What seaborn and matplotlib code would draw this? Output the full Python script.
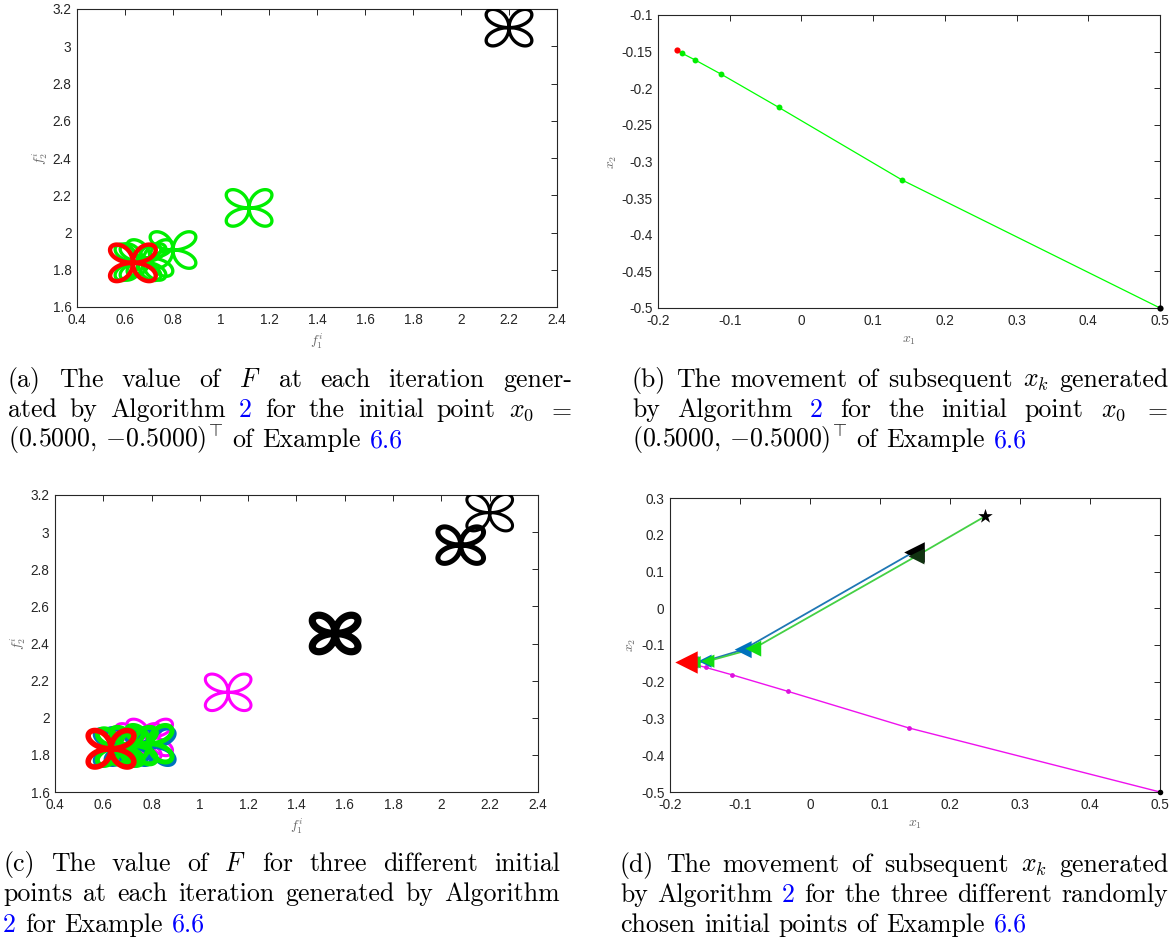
import numpy as np
import matplotlib
matplotlib.use("Agg")
import matplotlib.pyplot as plt
from matplotlib.path import Path
from matplotlib.markers import MarkerStyle
import seaborn as sns

# ---- data ----
# (a) value of F at each iterate, start x0 = (0.5, -0.5)
a_f1 = [2.20, 1.117, 0.800, 0.704, 0.675, 0.654, 0.633]
a_f2 = [3.100, 2.132, 1.906, 1.863, 1.842, 1.840, 1.837]

# (b) iterates x_k for x0 = (0.5, -0.5)
b_x1 = [0.5, 0.1408, -0.0318, -0.1116, -0.149, -0.1664, -0.174]
b_x2 = [-0.5, -0.3255, -0.226, -0.181, -0.161, -0.1523, -0.1477]

# (c) value of F for three starting points
c_start_f1 = [2.20, 2.08, 1.56]
c_start_f2 = [3.105, 2.930, 2.454]
c_mag_f1 = [1.117, 0.792, 0.745]
c_mag_f2 = [2.137, 1.894, 1.870]
c_blue_f1 = [0.800, 0.705, 0.660]
c_blue_f2 = [1.845, 1.845, 1.840]
c_green_f1 = [0.790, 0.725, 0.670]
c_green_f2 = [1.860, 1.850, 1.842]
c_end_f1 = [0.632]
c_end_f2 = [1.833]

# (d) iterates for three starting points
d_green_x1 = [0.25, 0.152, -0.081, -0.146, -0.165, -0.177]
d_green_x2 = [0.25, 0.142, -0.110, -0.144, -0.147, -0.147]
d_blue_x1 = [0.148, -0.0955, -0.150, -0.168, -0.177]
d_blue_x2 = [0.153, -0.1127, -0.144, -0.147, -0.147]
d_mag_x1 = b_x1
d_mag_x2 = b_x2

# ---- style ----
sns.set_theme(style="white")
plt.rcParams["font.family"] = ["Liberation Sans", "DejaVu Sans"]
plt.rcParams["mathtext.fontset"] = "cm"

W, H = 1175, 942
fig = plt.figure(figsize=(W / 100, H / 100), dpi=100)


def rect(l, r, t, b):
    return [l / W, 1 - b / H, (r - l) / W, (b - t) / H]


def fmt(v):
    return f"{v + 0.0:g}" if abs(v) > 1e-9 else "0"


def matlab_axes(ax, xlim, ylim, xticks, yticks, xlab, ylab):
    ax.set_xlim(xlim)
    ax.set_ylim(ylim)
    ax.set_xticks(xticks)
    ax.set_yticks(yticks)
    ax.set_xticklabels([fmt(v) for v in xticks])
    ax.set_yticklabels([fmt(v) for v in yticks])
    ax.tick_params(direction="in", top=True, right=True, length=4, width=0.7,
                   labelsize=9.8, colors="#262626", pad=4)
    for s in ax.spines.values():
        s.set_color("#262626")
        s.set_linewidth(0.8)
    ax.set_xlabel(xlab, fontsize=10, color="#666666", labelpad=4)
    ax.set_ylabel(ylab, fontsize=10, color="#666666", labelpad=2)


# four-leaf marker
t = np.linspace(0, 2 * np.pi, 241)
r = np.sin(2 * t)
leaf = MarkerStyle(Path(np.column_stack([r * np.cos(t), 0.8 * r * np.sin(t)])))
LEAF_S = 1080


def leaves(ax, x, y, color, lw):
    sns.scatterplot(x=x, y=y, ax=ax, marker=leaf, s=LEAF_S, color="none",
                    edgecolor=color, linewidth=lw, zorder=3)


f_ticks_x = np.round(np.arange(0.4, 2.41, 0.2), 1)
f_ticks_y = np.round(np.arange(1.6, 3.21, 0.2), 1)

# (a)
ax_a = fig.add_axes(rect(77, 557, 9, 307))
leaves(ax_a, a_f1[1:-1], a_f2[1:-1], "#00ee00", 2.4)
leaves(ax_a, a_f1[:1], a_f2[:1], "black", 2.4)
leaves(ax_a, a_f1[-1:], a_f2[-1:], "#ff0000", 3.2)
matlab_axes(ax_a, (0.4, 2.4), (1.6, 3.2), f_ticks_x, f_ticks_y,
            r"$f_1^i$", r"$f_2^i$")

# (b)
ax_b = fig.add_axes(rect(658, 1160, 15, 308))
sns.lineplot(x=b_x1, y=b_x2, ax=ax_b, sort=False, estimator=None,
             color="#00ff00", linewidth=0.9)
sns.scatterplot(x=b_x1[1:-1], y=b_x2[1:-1], ax=ax_b, color="#00ee00",
                s=18, linewidth=0, zorder=3)
sns.scatterplot(x=b_x1[-1:], y=b_x2[-1:], ax=ax_b, color="#ff0000",
                s=20, linewidth=0, zorder=4)
sns.scatterplot(x=b_x1[:1], y=b_x2[:1], ax=ax_b, color="black",
                s=20, linewidth=0, zorder=4, clip_on=False)
matlab_axes(ax_b, (-0.2, 0.5), (-0.5, -0.1),
            np.round(np.arange(-0.2, 0.51, 0.1), 1),
            np.round(np.arange(-0.5, -0.099, 0.05), 2),
            r"$x_1$", r"$x_2$")

# (c)
ax_c = fig.add_axes(rect(55, 538, 495, 792))
leaves(ax_c, c_mag_f1, c_mag_f2, "#ff00ff", 2.2)
leaves(ax_c, c_blue_f1, c_blue_f2, "#0072bd", 3.2)
leaves(ax_c, c_green_f1, c_green_f2, "#00ee00", 3.6)
leaves(ax_c, c_end_f1, c_end_f2, "#ff0000", 4.0)
leaves(ax_c, c_start_f1[:1], c_start_f2[:1], "black", 2.2)
leaves(ax_c, c_start_f1[1:2], c_start_f2[1:2], "black", 3.6)
leaves(ax_c, c_start_f1[2:], c_start_f2[2:], "black", 5.2)
matlab_axes(ax_c, (0.4, 2.4), (1.6, 3.2), f_ticks_x, f_ticks_y,
            r"$f_1^i$", r"$f_2^i$")

# (d)
ax_d = fig.add_axes(rect(670, 1160, 498, 792))
sns.lineplot(x=d_mag_x1, y=d_mag_x2, ax=ax_d, sort=False, estimator=None,
             color="#ee11ee", linewidth=1.0)
sns.scatterplot(x=d_mag_x1[1:], y=d_mag_x2[1:], ax=ax_d, color="#dd11dd",
                s=12, linewidth=0, zorder=3)
sns.scatterplot(x=d_mag_x1[:1], y=d_mag_x2[:1], ax=ax_d, color="black",
                s=16, linewidth=0, zorder=4, clip_on=False)
sns.lineplot(x=d_blue_x1, y=d_blue_x2, ax=ax_d, sort=False, estimator=None,
             color="#1f77b4", linewidth=1.3)
sns.lineplot(x=d_green_x1, y=d_green_x2, ax=ax_d, sort=False, estimator=None,
             color="#44d044", linewidth=1.3)
sns.scatterplot(x=d_blue_x1[1:-1], y=d_blue_x2[1:-1], ax=ax_d, marker="<",
                color="#0072bd", s=[150, 90, 80], linewidth=0, zorder=4)
sns.scatterplot(x=d_green_x1[2:-1], y=d_green_x2[2:-1], ax=ax_d, marker="<",
                color="#11dd11", s=[130, 90, 80], linewidth=0, zorder=5)
sns.scatterplot(x=d_blue_x1[:1], y=d_blue_x2[:1], ax=ax_d, marker="<",
                color="black", s=220, linewidth=0, zorder=5)
sns.scatterplot(x=d_green_x1[1:2], y=d_green_x2[1:2], ax=ax_d, marker="<",
                color="#113311", s=130, linewidth=0, zorder=5)
sns.scatterplot(x=d_green_x1[:1], y=d_green_x2[:1], ax=ax_d, marker="*",
                color="black", s=120, linewidth=0, zorder=5)
sns.scatterplot(x=d_green_x1[-1:], y=d_green_x2[-1:], ax=ax_d, marker="<",
                color="#ff0000", s=260, linewidth=0, zorder=6)
matlab_axes(ax_d, (-0.2, 0.5), (-0.5, 0.3),
            np.round(np.arange(-0.2, 0.51, 0.1), 1),
            np.round(np.arange(-0.5, 0.31, 0.1), 1),
            r"$x_1$", r"$x_2$")

# ---- captions ----
BLUE = "#0000ff"
row3 = [r"$(0.5000,\,{-}0.5000)^{\!\top}$", "of", "Example", ("6.6", BLUE)]
cap_a = [
    (["(a)", "The", "value", "of", "$F$", "at", "each", "iteration", "gener-"], True),
    (["ated", "by", "Algorithm", ("2", BLUE), "for", "the", "initial", "point",
      "$x_0$", "$=$"], True),
    (row3, False),
]
cap_b = [
    (["(b)", "The", "movement", "of", "subsequent", "$x_k$", "generated"], True),
    (["by", "Algorithm", ("2", BLUE), "for", "the", "initial", "point",
      "$x_0$", "$=$"], True),
    (row3, False),
]
cap_c = [
    (["(c)", "The", "value", "of", "$F$", "for", "three", "different", "initial"], True),
    (["points", "at", "each", "iteration", "generated", "by", "Algorithm"], True),
    ([("2", BLUE), "for", "Example", ("6.6", BLUE)], False),
]
cap_d = [
    (["(d)", "The", "movement", "of", "subsequent", "$x_k$", "generated"], True),
    (["by", "Algorithm", ("2", BLUE), "for", "the", "three", "different",
      "randomly"], True),
    (["chosen", "initial", "points", "of", "Example", ("6.6", BLUE)], False),
]

CAP_SIZE = 18.6
renderer = fig.canvas.get_renderer()


def caption(lines, x0, x1, baselines):
    for (tokens, justify), yb in zip(lines, baselines):
        texts = []
        for tok in tokens:
            s, c = tok if isinstance(tok, tuple) else (tok, "black")
            texts.append(fig.text(0, 1 - yb / H, s, color=c, fontsize=CAP_SIZE,
                                  family="cmr10", va="baseline", ha="left"))
        widths = [tx.get_window_extent(renderer).width for tx in texts]
        gap = CAP_SIZE * 100 / 72 * 0.34
        if justify:
            gap = (x1 - x0 - sum(widths)) / (len(texts) - 1)
        x = x0
        for tx, w in zip(texts, widths):
            tx.set_x(x / W)
            x += w + gap


caption(cap_a, 8, 572, [387, 417, 447])
caption(cap_b, 632, 1168, [387, 417, 447])
caption(cap_c, 3, 560, [871, 901, 932])
caption(cap_d, 620, 1168, [872, 902, 932])

fig.savefig("out.png", dpi=100)
